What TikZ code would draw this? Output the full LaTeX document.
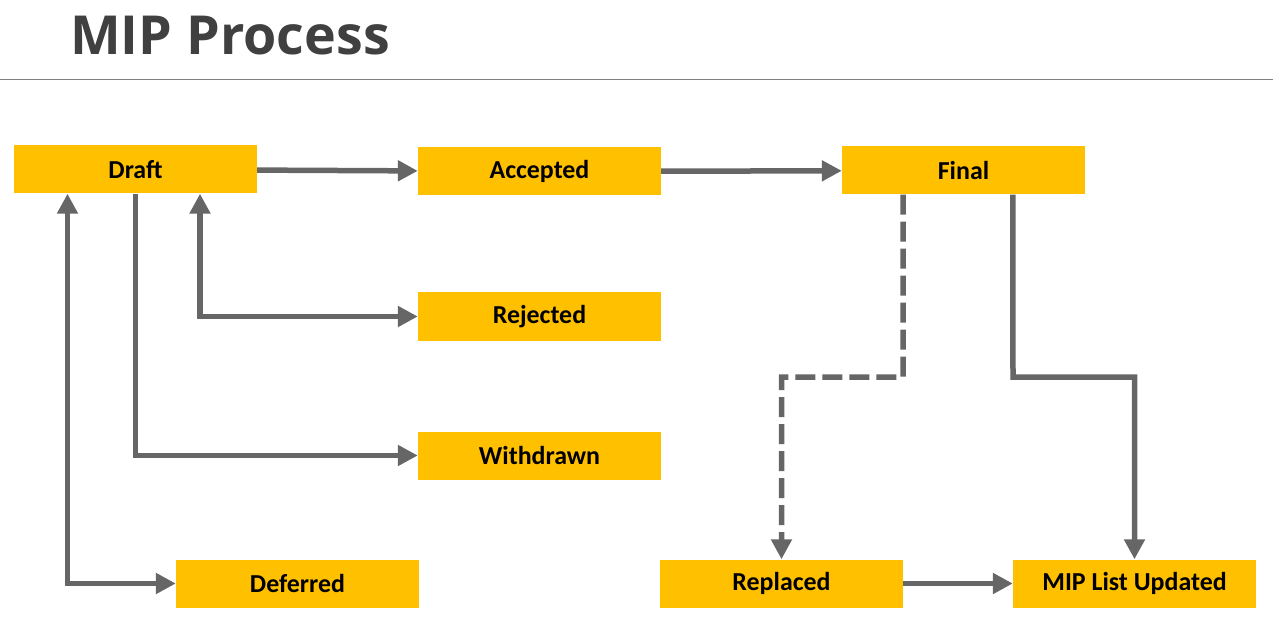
\documentclass[tikz,border=0pt]{standalone}
\usepackage{fontspec}
\setmainfont{Carlito}
\newfontfamily\titlefont{Open Sans}
\usepackage{xcolor}
\definecolor{BoxCol}{RGB}{255,192,0}
\definecolor{ArrowCol}{RGB}{102,102,102}
\definecolor{TitleCol}{RGB}{64,64,64}
\definecolor{RuleCol}{RGB}{128,128,128}
\usepackage{tikz}
\usetikzlibrary{arrows.meta}
\tikzstyle{Box}=[fill=BoxCol,minimum width=243bp,minimum height=48bp,
inner sep=0pt,font=\fontsize{26}{30}\selectfont\bfseries]
\tikzstyle{Arrow}=[draw=ArrowCol,line width=5.5bp]
\tikzstyle{DashArrow}=[Arrow,dash pattern=on 20bp off 7bp]
\tikzstyle{Title}=[anchor=base west,inner sep=0pt,text=TitleCol,
font=\titlefont\bfseries\fontsize{54}{60}\selectfont]
\tikzstyle{Rule}=[draw=RuleCol,line width=1bp]

\begin{document}
\begin{tikzpicture}[x=1bp,y=-1bp,>={Triangle[length=20bp,width=20bp]}]
        \useasboundingbox(0,0)rectangle(1273,641);
        \node[Title](title)at(70,55){MIP Process};
        \coordinate(rl)at(0,80);
        \coordinate(rr)at(1273,80);
        \draw[Rule](rl)--(rr);
        \node[Box](draft)at(135.5,169.5){Draft};
        \node[Box](accepted)at(539.5,171.5){Accepted};
        \node[Box](final)at(963.5,170.5){Final};
        \node[Box](rejected)at(539.5,316.5){Rejected};
        \node[Box](withdrawn)at(539.5,455.5){Withdrawn};
        \node[Box](deferred)at(297.5,583.5){Deferred};
        \node[Box](replaced)at(781.5,583.5){Replaced};
        \node[Box](updated)at(1134.5,583.5){MIP List Updated};
        \draw[Arrow,->](draft)--(accepted);
        \draw[Arrow,->](accepted)--(final);
        \draw[Arrow,<->]([xshift=64.5bp]draft.south)|-(rejected.west);
        \draw[Arrow,->](draft.south)|-(withdrawn.west);
        \draw[Arrow,<->]([xshift=-68bp]draft.south)|-(deferred.west);
        \coordinate(d1)at(903,377);
        \coordinate(s1)at(1013,377);
        \draw[DashArrow,->](replaced.east|-final.south)--(d1)-|(replaced.north);
        \draw[Arrow,->](updated.west|-final.south)--(s1)-|(updated.north);
        \draw[Arrow,->](replaced)--(updated);
    \end{tikzpicture}
\end{document}
